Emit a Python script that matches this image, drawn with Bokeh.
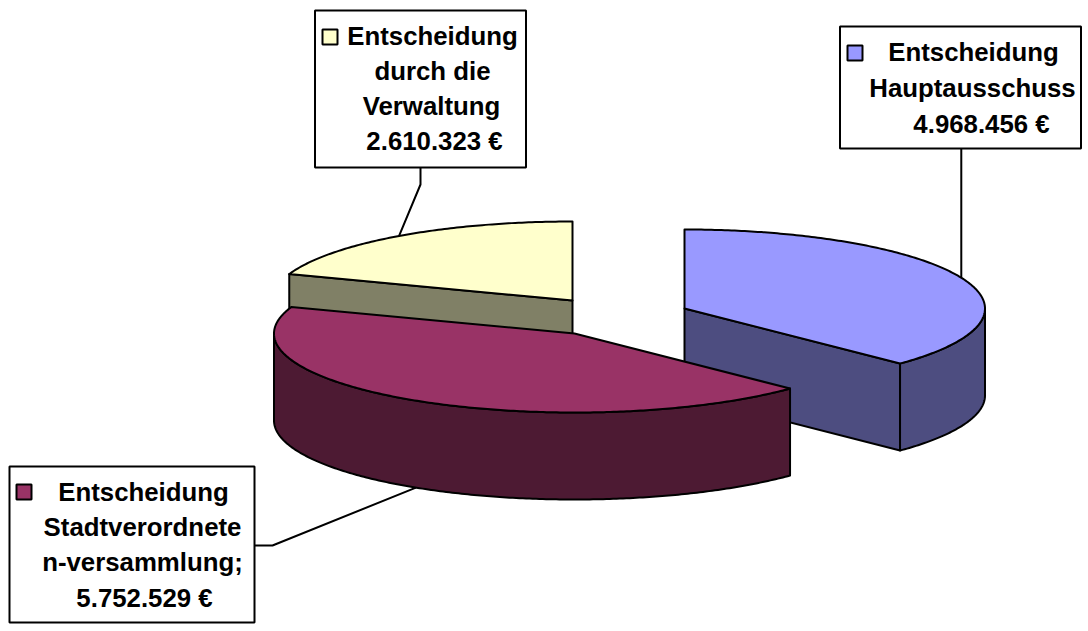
import numpy as np
from bokeh.plotting import figure
from bokeh.models import Range1d
from bokeh.core.properties import value
from bokeh.embed import file_html
from bokeh.resources import INLINE

# ---- data ----
names = ["Entscheidung Hauptausschuss", "Entscheidung Stadtverordneten-versammlung", "Entscheidung durch die Verwaltung"]
values = [4968456, 5752529, 2610323]
top_colors = ["#9999FF", "#993366", "#FFFFCC"]
side_colors = ["#4D4D80", "#4D1A33", "#808066"]
label_lines = [
    ["Entscheidung", "Hauptausschuss", "4.968.456 €"],
    ["Entscheidung", "Stadtverordnete", "n-versammlung;", "5.752.529 €"],
    ["Entscheidung", "durch die", "Verwaltung", "2.610.323 €"],
]

# ---- layout of the projected pie (pixels of the page) ----
W, H = 1084, 627
centres = [(684, 308), (574, 333), (572, 300)]
RX, RY, DEPTH = 300.5, 79, 87
LW = 2

p = figure(width=W, height=H, output_backend="svg", toolbar_location=None,
           x_range=Range1d(0, W), y_range=Range1d(H, 0),
           x_axis_type="linear", min_border=0)
p.axis.visible = False
p.grid.visible = False
p.outline_line_color = None
p.background_fill_color = "white"
p.border_fill_color = "white"

total = sum(values)
edges = np.concatenate([[0.0], np.cumsum(values) / total * 2 * np.pi])


def pt(c, a, drop=0.0):
    return c[0] + RX * np.sin(a), c[1] - RY * np.cos(a) + drop


def arc(c, a0, a1, drop=0.0):
    t = np.linspace(a0, a1, max(int(abs(a1 - a0) * 90), 2))
    return c[0] + RX * np.sin(t), c[1] - RY * np.cos(t) + drop


# leader lines run from the middle of each slice to its label box
mid = (edges[:-1] + edges[1:]) / 2
bx, by = pt(centres[0], mid[0])
p.line([bx, bx], [by, 148], line_color="black", line_width=LW)
mx, my = pt(centres[1], mid[1], DEPTH)
p.line([mx, 272, 254], [my, 545, 545], line_color="black", line_width=LW)
yx, yy = pt(centres[2], mid[2])
p.line([yx, 420, 420], [yy, 184, 167], line_color="black", line_width=LW)


def draw_slice(i):
    c = centres[i]
    a0, a1 = edges[i], edges[i + 1]
    # cut faces that look towards the viewer
    if i == 0:
        ex, ey = pt(c, a1)
        p.patch([c[0], ex, ex, c[0]], [c[1], ey, ey + DEPTH, c[1] + DEPTH],
                fill_color=side_colors[i], line_color="black", line_width=LW, line_join="round")
    if i == 2:
        ex, ey = pt(c, a0)
        p.patch([c[0], ex, ex, c[0]], [c[1], ey, ey + DEPTH, c[1] + DEPTH],
                fill_color=side_colors[i], line_color="black", line_width=LW, line_join="round")
    # outer wall on the front half
    w0, w1 = max(a0, np.pi / 2), min(a1, 3 * np.pi / 2)
    if w1 > w0:
        tx, ty = arc(c, w0, w1)
        ux, uy = arc(c, w0, w1, DEPTH)
        p.patch(np.concatenate([tx, ux[::-1]]), np.concatenate([ty, uy[::-1]]),
                fill_color=side_colors[i], line_color="black", line_width=LW, line_join="round")
    # top
    tx, ty = arc(c, a0, a1)
    p.patch(np.concatenate([[c[0]], tx]), np.concatenate([[c[1]], ty]),
            fill_color=top_colors[i], line_color="black", line_width=LW, line_join="round")


for i in (0, 2, 1):
    draw_slice(i)

# label boxes: left, right, top, bottom
boxes = [(839.5, 1080.5, 26, 148), (9, 254, 466, 622), (314.5, 525.5, 10, 167)]
keys = [(847, 862, 45, 60), (16, 31, 484, 499), (322, 337, 29, 44)]
line_x = [[973, 972, 981], [143, 142, 142, 144], [432, 432, 431, 434]]
line_y = [[51, 87, 123], [491, 526, 561, 597], [35, 70, 105, 140]]

for i in range(3):
    l, r, t, b = boxes[i]
    p.quad(left=l, right=r, top=t, bottom=b, fill_color="white", line_color="black", line_width=LW)
    l, r, t, b = keys[i]
    p.quad(left=l, right=r, top=t, bottom=b, fill_color=top_colors[i], line_color="black", line_width=LW)
    p.text(x=line_x[i], y=line_y[i], text=label_lines[i],
           text_font=value("Liberation Sans"), text_font_style="bold", text_font_size="25.8px",
           text_color="black", text_align="center", text_baseline="alphabetic")

open("out.html", "w").write(file_html(p, INLINE))
